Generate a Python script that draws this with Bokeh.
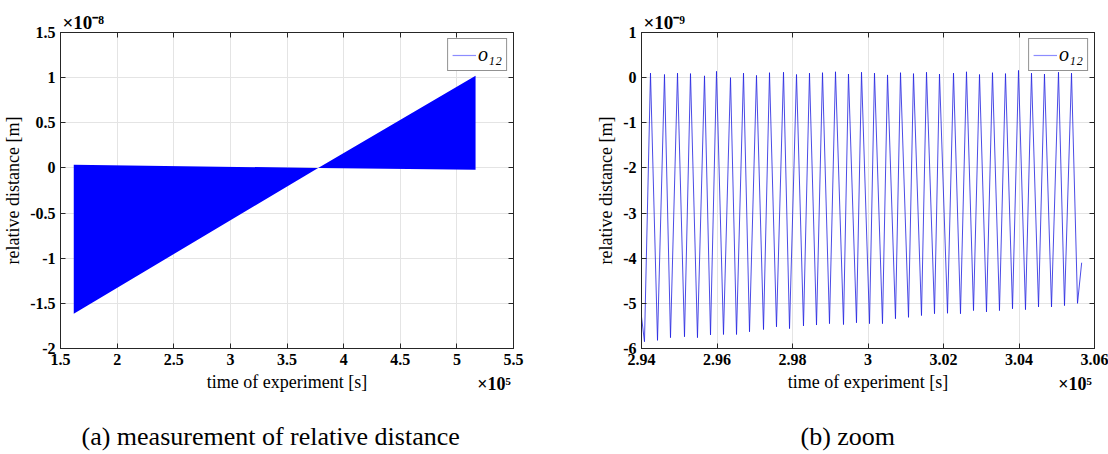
from bokeh.plotting import figure
from bokeh.models import Range1d, FixedTicker, LinearAxis, Title
from bokeh.layouts import row
from bokeh.embed import file_html
from bokeh.resources import INLINE

# ---------------- data ----------------
# (a) measurement: envelope of the dense oscillation; time in 1e5 s, distance in 1e-8 m
env_time = [1.617, 3.775, 5.165]
env_upper = [0.035, 0.0, 1.02]
env_lower = [-1.615, 0.0, -0.02]

a_xticks = [1.5, 2, 2.5, 3, 3.5, 4, 4.5, 5, 5.5]
a_xlabels = ["1.5", "2", "2.5", "3", "3.5", "4", "4.5", "5", "5.5"]
a_yticks = [-2, -1.5, -1, -0.5, 0, 0.5, 1, 1.5]
a_ylabels = ["-2", "-1.5", "-1", "-0.5", "0", "0.5", "1", "1.5"]

# (b) zoom: time in 1e5 s, distance in 1e-9 m
zoom_start = (2.9400, -5.30)
zoom_end = (3.0566, -4.10)
peak_time = [2.94238, 2.94609, 2.94954, 2.95298, 2.95669, 2.95987, 2.96358, 2.96702,
             2.97046, 2.97391, 2.97762, 2.98106, 2.98450, 2.98795, 2.99139, 2.99483,
             2.99828, 3.00172, 3.00517, 3.00861, 3.01205, 3.01550, 3.01894, 3.02265,
             3.02609, 3.02954, 3.03298, 3.03642, 3.03987, 3.04331, 3.04675, 3.05046,
             3.05391]
peak_value = [0.10, 0.07, 0.10, 0.09, 0.04, 0.14, 0.00, 0.10, 0.05, 0.11, 0.12, 0.07,
              0.10, 0.11, 0.13, 0.08, 0.12, 0.10, 0.06, 0.11, 0.09, 0.12, 0.08, 0.10,
              0.13, 0.07, 0.11, 0.09, 0.16, 0.10, 0.08, 0.12, 0.10]
trough_time = [2.94079, 2.94424, 2.94768, 2.95139, 2.95483, 2.95828, 2.96172, 2.96517,
               2.96861, 2.97232, 2.97576, 2.97921, 2.98291, 2.98636, 2.98980, 2.99351,
               2.99695, 3.00040, 3.00384, 3.00728, 3.01073, 3.01417, 3.01762, 3.02106,
               3.02450, 3.02795, 3.03139, 3.03483, 3.03828, 3.04172, 3.04517, 3.04861,
               3.05205, 3.05550]
trough_value = [-5.85, -5.82, -5.76, -5.74, -5.76, -5.70, -5.69, -5.69, -5.63, -5.58,
                -5.52, -5.56, -5.50, -5.48, -5.45, -5.47, -5.43, -5.45, -5.45, -5.34,
                -5.31, -5.27, -5.23, -5.22, -5.23, -5.16, -5.19, -5.16, -5.12, -5.14,
                -5.08, -5.08, -5.05, -5.00]

b_xticks = [2.94, 2.96, 2.98, 3.0, 3.02, 3.04, 3.06]
b_xlabels = ["2.94", "2.96", "2.98", "3", "3.02", "3.04", "3.06"]
b_yticks = [-6, -5, -4, -3, -2, -1, 0, 1]
b_ylabels = ["-6", "-5", "-4", "-3", "-2", "-1", "0", "1"]

legend_text = "o\u2081\u2082"
xlabel = "time of experiment [s]"
ylabel = "relative distance [m]"
a_exp_y = "\u00d710\u207b\u2078"
b_exp_y = "\u00d710\u207b\u2079"
exp_x = "\u00d710\u2075"
captions = ["(a) measurement of relative distance", "(b) zoom"]

# ---------------- styling ----------------
SERIF = "Liberation Serif"
DARK = "#262626"
GRID = "#e4e4e4"


def style_axis(ax, ticks, labels, show_labels=True):
    ax.ticker = FixedTicker(ticks=ticks)
    ax.major_label_overrides = {t: s for t, s in zip(ticks, labels)}
    ax.major_tick_in = 5
    ax.major_tick_out = 0
    ax.minor_tick_line_color = None
    ax.axis_line_color = DARK
    ax.major_tick_line_color = DARK
    ax.major_label_text_font = SERIF
    ax.major_label_text_font_style = "bold"
    ax.major_label_text_font_size = "16px"
    ax.major_label_standoff = 5
    if show_labels:
        ax.major_label_text_color = "black"
    else:
        ax.major_label_text_color = None
        ax.major_label_standoff = 0


def make_fig(xr, yr, xt, xl, yt, yl, border_left, border_right, exp_y, caption, cap_offset):
    p = figure(frame_width=453, frame_height=316,
               x_range=Range1d(*xr), y_range=Range1d(*yr),
               min_border_left=border_left, min_border_right=border_right,
               min_border_top=32, min_border_bottom=106,
               output_backend="svg", toolbar_location=None,
               background_fill_color="white", border_fill_color="white")
    p.outline_line_color = DARK

    xax = p.below[0]
    yax = p.left[0]
    style_axis(xax, xt, xl)
    style_axis(yax, yt, yl)
    yax.axis_label = ylabel
    yax.axis_label_text_font = SERIF
    yax.axis_label_text_font_style = "normal"
    yax.axis_label_text_font_size = "18px"
    yax.axis_label_text_color = "black"
    yax.axis_label_standoff = 4
    p.xgrid.ticker = xax.ticker
    p.ygrid.ticker = yax.ticker
    p.xgrid.grid_line_color = GRID
    p.ygrid.grid_line_color = GRID

    # box ticks on top and right
    top = LinearAxis()
    style_axis(top, xt, xl, show_labels=False)
    p.add_layout(top, "above")
    right = LinearAxis()
    style_axis(right, yt, yl, show_labels=False)
    p.add_layout(right, "right")

    # second bottom axis: x-axis label plus the x multiplier at the right end
    mult_pos = xr[1] - (xr[1] - xr[0]) * 0.043
    xax2 = LinearAxis(ticker=FixedTicker(ticks=[mult_pos]),
                      major_label_overrides={mult_pos: exp_x})
    xax2.axis_line_color = None
    xax2.major_tick_line_color = None
    xax2.minor_tick_line_color = None
    xax2.major_tick_in = 0
    xax2.major_tick_out = 0
    xax2.major_label_standoff = 6
    xax2.major_label_text_font = SERIF
    xax2.major_label_text_font_style = "bold"
    xax2.major_label_text_font_size = "18px"
    xax2.major_label_text_color = "black"
    xax2.axis_label = xlabel
    xax2.axis_label_text_font = SERIF
    xax2.axis_label_text_font_style = "normal"
    xax2.axis_label_text_font_size = "18px"
    xax2.axis_label_text_color = "black"
    xax2.axis_label_standoff = -25
    p.add_layout(xax2, "below")

    # y multiplier above the top-left corner
    p.title = Title(text=exp_y, align="left", offset=2, standoff=0,
                    text_font=SERIF, text_font_style="bold", text_font_size="19px",
                    text_color="black")
    # sub-figure caption
    p.add_layout(Title(text=caption, align="left", offset=cap_offset, standoff=51,
                       text_font=SERIF, text_font_style="normal", text_font_size="26px",
                       text_color="black"), "below")
    return p


# ---------------- (a) ----------------
pa = make_fig((1.5, 5.5), (-2, 1.5), a_xticks, a_xlabels, a_yticks, a_ylabels,
              59, 42, a_exp_y, captions[0], 21)
pa.varea(x=env_time, y1=env_lower, y2=env_upper, fill_color="#0000ff")

# ---------------- (b) ----------------
pb = make_fig((2.94, 3.06), (-6, 1), b_xticks, b_xlabels, b_yticks, b_ylabels,
              86, 15, b_exp_y, captions[1], 159)
zx = [zoom_start[0]]
zy = [zoom_start[1]]
for i in range(len(peak_time)):
    zx += [trough_time[i], peak_time[i]]
    zy += [trough_value[i], peak_value[i]]
zx.append(trough_time[-1])
zy.append(trough_value[-1])
zx.append(zoom_end[0])
zy.append(zoom_end[1])
pb.line(zx, zy, line_color="#2020e0", line_width=0.9, line_alpha=0.9)

nan = float("nan")
for p in (pa, pb):
    p.line([nan], [nan], line_color="#8c8cff", line_width=1.2, legend_label=legend_text)
    lg = p.legend[0]
    lg.location = "top_right"
    lg.margin = 6
    lg.padding = 4
    lg.spacing = 0
    lg.glyph_width = 24
    lg.glyph_height = 18
    lg.label_height = 18
    lg.label_standoff = 2
    lg.label_text_font = SERIF
    lg.label_text_font_style = "italic"
    lg.label_text_font_size = "20px"
    lg.label_text_color = "black"
    lg.border_line_color = DARK
    lg.border_line_width = 1
    lg.background_fill_color = "white"
    lg.background_fill_alpha = 1.0

layout = row(pa, pb)
open("out.html", "w").write(file_html(layout, INLINE))
